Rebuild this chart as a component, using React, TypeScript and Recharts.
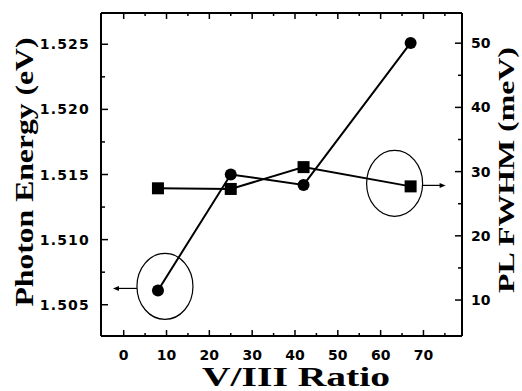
import { ComposedChart, Line, XAxis, YAxis, ReferenceDot, Label } from 'recharts'

const ratio = [8, 25, 42, 67]
const photonEnergy = [1.5061, 1.515, 1.5142, 1.5251]
const plFwhm = [27.4, 27.3, 30.7, 27.7]

const xTicks = [0, 5, 10, 15, 20, 25, 30, 35, 40, 45, 50, 55, 60, 65, 70, 75]
const energyTicks = [1.505, 1.5075, 1.51, 1.5125, 1.515, 1.5175, 1.52, 1.5225, 1.525]
const fwhmTicks = [10, 15, 20, 25, 30, 35, 40, 45, 50]

const data = ratio.map((r, i) => ({ ratio: r, energy: photonEnergy[i], fwhm: plFwhm[i] }))

const tickFont = { fontFamily: '"DejaVu Sans", sans-serif', fontWeight: 700, fontSize: 14, fill: '#000' }
const titleStyle = { fontFamily: "'Liberation Serif', 'DejaVu Serif', serif", fontWeight: 700 }

const isMajor = (v: number, step: number) => Math.abs(v / step - Math.round(v / step)) < 1e-6

const BottomTick = ({ x, y, payload }: any) => {
  const major = isMajor(payload.value, 10)
  return (
    <g>
      <line x1={x} x2={x} y1={y} y2={y - (major ? 6 : 3)} stroke="#000" strokeWidth={1.5} />
      {major && <text x={x} y={y + 24} textAnchor="middle" {...tickFont}>{payload.value}</text>}
    </g>
  )
}

const TopTick = ({ x, y, payload }: any) => {
  const major = isMajor(payload.value, 10)
  return <line x1={x} x2={x} y1={y} y2={y + (major ? 6 : 3)} stroke="#000" strokeWidth={1.5} />
}

const LeftTick = ({ x, y, payload }: any) => {
  const major = isMajor(payload.value, 0.005)
  return (
    <g>
      <line x1={x} x2={x + (major ? 7 : 4)} y1={y} y2={y} stroke="#000" strokeWidth={1.5} />
      {major && (
        <text x={x - 11} y={y + 5} textAnchor="end" letterSpacing={1.2} {...tickFont}>
          {payload.value.toFixed(3)}
        </text>
      )}
    </g>
  )
}

const RightTick = ({ x, y, payload }: any) => {
  const major = isMajor(payload.value, 10)
  return (
    <g>
      <line x1={x} x2={x - (major ? 7 : 4)} y1={y} y2={y} stroke="#000" strokeWidth={1.5} />
      {major && <text x={x + 9} y={y + 5} textAnchor="start" {...tickFont}>{payload.value}</text>}
    </g>
  )
}

const SquareDot = ({ cx, cy }: any) => <rect x={cx - 6} y={cy - 6} width={12} height={12} fill="#000" />

const ringLeft = ({ cx, cy }: any) => (
  <g>
    <ellipse cx={cx + 7} cy={cy - 4} rx={28} ry={33} fill="none" stroke="#000" strokeWidth={1.2} />
    <line x1={cx - 21} x2={cx - 40} y1={cy - 2} y2={cy - 2} stroke="#000" strokeWidth={1.2} />
    <polygon points={`${cx - 45},${cy - 2} ${cx - 39},${cy - 4.5} ${cx - 39},${cy + 0.5}`} fill="#000" />
  </g>
)

const ringRight = ({ cx, cy }: any) => (
  <g>
    <ellipse cx={cx - 16} cy={cy - 3} rx={28} ry={33} fill="none" stroke="#000" strokeWidth={1.2} />
    <line x1={cx + 12} x2={cx + 30} y1={cy - 1} y2={cy - 1} stroke="#000" strokeWidth={1.2} />
    <polygon points={`${cx + 35},${cy - 1} ${cx + 29},${cy - 3.5} ${cx + 29},${cy + 1.5}`} fill="#000" />
  </g>
)

export default function App() {
  return (
    <div style={{ position: 'absolute', left: 0, top: 0, background: '#fff' }}>
      <ComposedChart width={522} height={391} data={data} margin={{ top: 12, right: 59, bottom: 54, left: 100 }}>
        <XAxis
          type="number" dataKey="ratio" domain={[-5.3, 79]} ticks={xTicks} allowDataOverflow
          height={1} tickSize={0} tickMargin={0} tickLine={false} tick={<BottomTick />}
          axisLine={{ stroke: '#000', strokeWidth: 2 }}
        >
          <Label content={() => (
            <text x={296} y={386} textAnchor="middle" fontSize={27} fill="#000" style={titleStyle}
              textLength={188} lengthAdjust="spacingAndGlyphs">
              V/III  Ratio
            </text>
          )} />
        </XAxis>
        <XAxis
          xAxisId="top" orientation="top" type="number" dataKey="ratio" domain={[-5.3, 79]} ticks={xTicks} allowDataOverflow
          height={1} tickSize={0} tickMargin={0} tickLine={false} tick={<TopTick />}
          axisLine={{ stroke: '#000', strokeWidth: 2 }}
        />
        <YAxis
          yAxisId="e" type="number" domain={[1.5026, 1.5274]} ticks={energyTicks} allowDataOverflow
          width={1} tickSize={0} tickMargin={0} tickLine={false} tick={<LeftTick />}
          axisLine={{ stroke: '#000', strokeWidth: 2 }}
        >
          <Label content={() => (
            <text x={33} y={172} transform="rotate(-90 33 172)" textAnchor="middle" fontSize={25} fill="#000" style={titleStyle}
              textLength={269} lengthAdjust="spacingAndGlyphs">
              Photon Energy (eV)
            </text>
          )} />
        </YAxis>
        <YAxis
          yAxisId="w" orientation="right" type="number" domain={[4.4, 54.7]} ticks={fwhmTicks} allowDataOverflow
          width={1} tickSize={0} tickMargin={0} tickLine={false} tick={<RightTick />}
          axisLine={{ stroke: '#000', strokeWidth: 2 }}
        >
          <Label content={() => (
            <text x={514} y={170} transform="rotate(-90 514 170)" textAnchor="middle" fontSize={23} fill="#000" style={titleStyle}
              textLength={246} lengthAdjust="spacingAndGlyphs">
              PL FWHM (meV)
            </text>
          )} />
        </YAxis>
        <Line
          yAxisId="w" type="linear" dataKey="fwhm" stroke="#000" strokeWidth={2}
          dot={<SquareDot />} activeDot={false} isAnimationActive={false}
        />
        <Line
          yAxisId="e" type="linear" dataKey="energy" stroke="#000" strokeWidth={2}
          dot={{ r: 6, fill: '#000', stroke: '#000', strokeWidth: 0 }} activeDot={false} isAnimationActive={false}
        />
        <ReferenceDot yAxisId="e" x={ratio[0]} y={photonEnergy[0]} ifOverflow="visible" shape={ringLeft} />
        <ReferenceDot yAxisId="w" x={ratio[3]} y={plFwhm[3]} ifOverflow="visible" shape={ringRight} />
      </ComposedChart>
    </div>
  )
}
